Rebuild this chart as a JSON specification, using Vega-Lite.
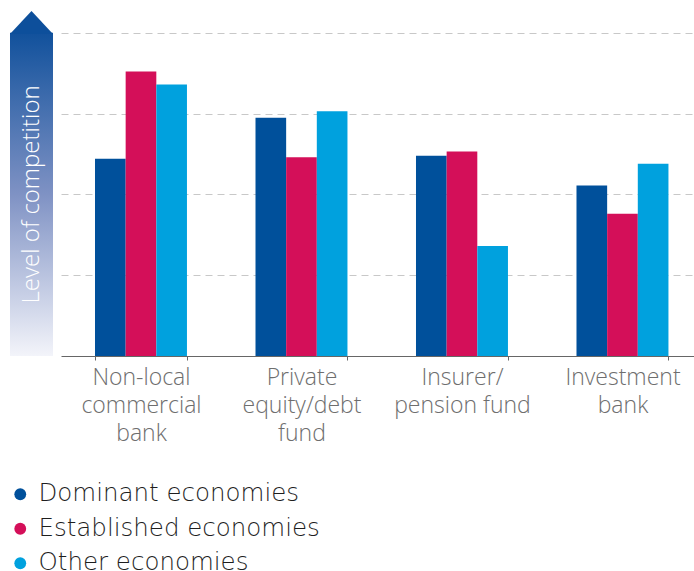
{
  "$schema": "https://vega.github.io/schema/vega-lite/v6.json",
  "autosize": {"type": "pad"},
  "padding": {"left": 8, "top": 10, "right": 0, "bottom": 0},
  "spacing": 8,
  "background": "white",
  "config": {"view": {"stroke": null}, "font": "Open Sans"},
  "hconcat": [
    {
      "width": 43,
      "height": 345,
      "data": {"values": [{"label": "Level of competition"}]},
      "layer": [
        {
          "mark": {"type": "rect", "fill": {"gradient": "linear", "x1": 0, "y1": 0, "x2": 0, "y2": 1, "stops": [{"offset": 0, "color": "#11519c"}, {"offset": 0.5, "color": "#7f92c4"}, {"offset": 1, "color": "#f3f4fa"}]}},
          "encoding": {
            "x": {"datum": 0, "type": "quantitative", "scale": {"domain": [0, 1], "nice": false}, "axis": null},
            "x2": {"datum": 1},
            "y": {"datum": 0, "type": "quantitative", "scale": {"domain": [0, 4.27], "nice": false}, "axis": null},
            "y2": {"datum": 4}
          }
        },
        {
          "mark": {"type": "point", "filled": true, "opacity": 1, "strokeWidth": 0, "fill": "#0d4f9b", "size": 1849, "shape": "M-1,0.06L1,0.06L0,-1.02Z"},
          "encoding": {
            "x": {"datum": 0.5, "type": "quantitative"},
            "y": {"datum": 4, "type": "quantitative"}
          }
        },
        {
          "mark": {"type": "text", "angle": 270, "color": "white", "fontSize": 24, "fontWeight": 300, "align": "center", "baseline": "middle"},
          "encoding": {
            "x": {"datum": 0.5, "type": "quantitative"},
            "y": {"datum": 2, "type": "quantitative"},
            "text": {"field": "label"}
          }
        }
      ]
    },
    {
      "width": 633,
      "height": 345,
      "data": {"values": [
        {"category": "Non-local commercial bank", "economy": "Dominant economies", "value": 2.44},
        {"category": "Non-local commercial bank", "economy": "Established economies", "value": 3.52},
        {"category": "Non-local commercial bank", "economy": "Other economies", "value": 3.36},
        {"category": "Private equity/debt fund", "economy": "Dominant economies", "value": 2.95},
        {"category": "Private equity/debt fund", "economy": "Established economies", "value": 2.46},
        {"category": "Private equity/debt fund", "economy": "Other economies", "value": 3.03},
        {"category": "Insurer/pension fund", "economy": "Dominant economies", "value": 2.48},
        {"category": "Insurer/pension fund", "economy": "Established economies", "value": 2.53},
        {"category": "Insurer/pension fund", "economy": "Other economies", "value": 1.36},
        {"category": "Investment bank", "economy": "Dominant economies", "value": 2.11},
        {"category": "Investment bank", "economy": "Established economies", "value": 1.76},
        {"category": "Investment bank", "economy": "Other economies", "value": 2.38}
      ]},
      "mark": {"type": "bar"},
      "encoding": {
        "x": {
          "field": "category", "type": "nominal", "sort": null,
          "scale": {"paddingInner": 0.427, "paddingOuter": 0.1855, "align": 0.571},
          "axis": {
            "title": null, "labelAngle": 0, "tickBand": "extent",
            "domainColor": "#666666", "tickColor": "#666666", "tickSize": 4,
            "labelColor": "#6e6e6e", "labelFontSize": 23, "labelFontWeight": 300, "labelLineHeight": 28,
            "labelPadding": 6, "labelLimit": 0, "labelBaseline": "top",
            "labelExpr": "datum.value == 'Non-local commercial bank' ? ['Non-local', 'commercial', 'bank'] : datum.value == 'Private equity/debt fund' ? ['Private', 'equity/debt', 'fund'] : datum.value == 'Insurer/pension fund' ? ['Insurer/', 'pension fund'] : datum.value == 'Investment bank' ? ['Investment', 'bank'] : ''"
          }
        },
        "xOffset": {"field": "economy", "type": "nominal", "sort": null, "scale": {"paddingInner": 0, "paddingOuter": 0}},
        "y": {
          "field": "value", "type": "quantitative",
          "scale": {"domain": [0, 4.27], "nice": false},
          "axis": {"values": [1, 2, 3, 4], "grid": true, "labels": false, "ticks": false, "domain": false, "title": null, "gridDash": [7, 5], "gridColor": "#c8c8c8", "gridWidth": 1}
        },
        "color": {
          "field": "economy", "type": "nominal", "sort": null,
          "scale": {"domain": ["Dominant economies", "Established economies", "Other economies"], "range": ["#00509b", "#d40f59", "#00a1de"]},
          "legend": {"orient": "none", "legendX": -2, "legendY": 471, "title": null, "symbolType": "circle", "symbolSize": 140, "symbolStrokeWidth": 0, "labelFont": "DejaVu Sans", "labelFontSize": 24.5, "labelFontWeight": 200, "labelColor": "#1e1e1e", "labelLimit": 0, "rowPadding": 9.5, "labelOffset": 6, "padding": 0}
        }
      }
    }
  ]
}
